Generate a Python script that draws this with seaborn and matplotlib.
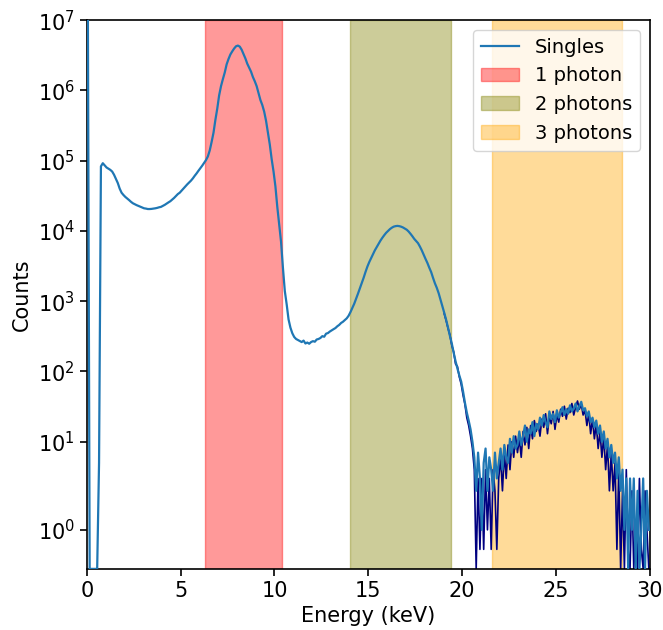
import numpy as np
import pandas as pd
import matplotlib
matplotlib.use("Agg")
import matplotlib.pyplot as plt
from matplotlib.ticker import LogFormatterSciNotation, NullLocator
import seaborn as sns

# Histogram bins: 0.1 keV wide, centres at 0.05 ... 29.95 keV
bin_width = 0.1
n_bins = 300
energy = np.round(np.arange(n_bins) * bin_width + bin_width / 2, 2)

# Singles spectrum, one row per keV (10 bins each)
singles = [
    3e7, 0, 0, 0, 0, 0, 5, 8.3e4, 9.2e4, 8.6e4,
    8.0e4, 7.7e4, 7.4e4, 7.0e4, 6.3e4, 5.5e4, 4.8e4, 4.0e4, 3.5e4, 3.25e4,
    3.05e4, 2.9e4, 2.75e4, 2.6e4, 2.48e4, 2.4e4, 2.33e4, 2.27e4, 2.22e4, 2.16e4,
    2.1e4, 2.08e4, 2.05e4, 2.05e4, 2.06e4, 2.08e4, 2.1e4, 2.13e4, 2.17e4, 2.2e4,
    2.27e4, 2.35e4, 2.45e4, 2.55e4, 2.65e4, 2.8e4, 2.95e4, 3.15e4, 3.35e4, 3.5e4,
    3.75e4, 4.0e4, 4.3e4, 4.6e4, 4.9e4, 5.2e4, 5.6e4, 6.1e4, 6.6e4, 7.2e4,
    7.8e4, 8.5e4, 9.3e4, 1.02e5, 1.15e5, 1.4e5, 1.85e5, 2.5e5, 3.8e5, 5.5e5,
    8.5e5, 1.15e6, 1.45e6, 1.8e6, 2.35e6, 2.8e6, 3.25e6, 3.6e6, 3.95e6, 4.25e6,
    4.35e6, 4.2e6, 3.8e6, 3.3e6, 2.85e6, 2.4e6, 2.1e6, 1.85e6, 1.55e6, 1.35e6,
    1.15e6, 9.2e5, 7.3e5, 6.2e5, 5.0e5, 3.7e5, 2.5e5, 1.7e5, 1.05e5, 7.0e4,
    4.3e4, 2.2e4, 1.25e4, 7.0e3, 3.0e3, 1.4e3, 900, 550, 420, 350,
    310, 290, 280, 270, 262, 275, 250, 258, 248, 262,
    270, 265, 285, 290, 300, 318, 312, 345, 352, 370,
    385, 400, 415, 440, 460, 490, 510, 540, 570, 620,
    700, 800, 920, 1080, 1280, 1520, 1800, 2150, 2600, 3100,
    3600, 4100, 4700, 5300, 5900, 6600, 7300, 8000, 8700, 9400,
    1.0e4, 1.06e4, 1.11e4, 1.15e4, 1.17e4, 1.18e4, 1.17e4, 1.15e4, 1.12e4, 1.08e4,
    1.04e4, 9800, 9100, 8400, 7700, 7200, 6700, 6000, 5300, 4600,
    4000, 3500, 3000, 2600, 2150, 1800, 1550, 1300, 1050, 850,
    680, 540, 420, 320, 250, 185, 140, 110, 88, 72,
    52, 36, 26, 20, 15, 10, 6, 2, 7, 3,
    1, 5, 8, 2, 6, 4, 2, 7, 3, 5,
    8, 4, 9, 6, 5, 11, 7, 12, 8, 9,
    14, 9, 12, 17, 10, 15, 13, 19, 12, 18,
    15, 22, 17, 24, 19, 16, 27, 21, 25, 19,
    28, 22, 26, 31, 24, 29, 25, 33, 27, 30,
    35, 27, 32, 37, 28, 30, 23, 27, 19, 22,
    16, 20, 13, 17, 10, 14, 8, 11, 6, 9,
    5, 7, 3, 6, 2, 4, 1, 3, 0, 3,
    1, 3, 0, 2, 0, 1, 3, 0, 2, 1,
]

# Second channel, from 19 keV upward (below that it coincides with the singles)
second_start = 19.0
second = [
    660, 530, 410, 330, 235, 190, 128, 118, 84, 66,
    46, 34, 22, 17, 12, 8, 4, 0, 3, 0.5,
    3, 0.5, 4, 1, 3, 0.5, 4, 2, 0.5, 3,
    6, 2, 7, 3, 9, 4, 10, 6, 12, 7,
    11, 6, 14, 9, 16, 8, 17, 11, 20, 14,
    18, 12, 21, 16, 25, 13, 23, 18, 27, 15,
    24, 19, 29, 23, 32, 21, 30, 26, 35, 24,
    31, 38, 29, 34, 24, 28, 17, 25, 13, 21,
    11, 18, 8, 14, 6, 12, 4, 9, 2, 7,
    2, 5, 0.5, 4, 0, 2, 0, 4, 0.5, 0,
    2, 0, 1, 0, 3, 0.5, 0, 2, 1, 0,
]

# Photon-multiplicity windows (keV)
windows = [(6.3, 10.4), (14.0, 19.4), (21.6, 28.5)]
window_labels = ["1 photon", "2 photons", "3 photons"]
window_colors = ["red", "olive", "orange"]

df_singles = pd.DataFrame({"energy": energy, "counts": singles})
second_energy = energy[energy > second_start]
df_second = pd.DataFrame({"energy": second_energy, "counts": second})

plt.rcParams["font.family"] = ["DejaVu Sans"]
plt.rcParams["font.size"] = 15
plt.rcParams["axes.linewidth"] = 1.2
plt.rcParams["xtick.major.size"] = 5
plt.rcParams["ytick.major.size"] = 5
plt.rcParams["xtick.major.width"] = 1.2
plt.rcParams["ytick.major.width"] = 1.2

fig = plt.figure(figsize=(6.63, 6.30), dpi=100)
ax = fig.add_axes([0.131, 0.097, 0.849, 0.871])

for (lo, hi), lab, col in zip(windows, window_labels, window_colors):
    ax.axvspan(lo, hi, color=col, alpha=0.4, label=lab, zorder=1)

sns.lineplot(data=df_second, x="energy", y="counts", ax=ax, color="navy",
             linewidth=1.2, estimator=None, label="_nolegend_", zorder=2)
sns.lineplot(data=df_singles, x="energy", y="counts", ax=ax, color="C0",
             linewidth=1.6, estimator=None, label="Singles", zorder=3)

ax.set_yscale("symlog", linthresh=2, linscale=1)
ax.set_ylim(0, 1e7)
ax.set_xlim(0, 30)
ax.set_yticks([10.0 ** k for k in range(0, 8)])
ax.yaxis.set_major_formatter(LogFormatterSciNotation(base=10))
ax.yaxis.set_minor_locator(NullLocator())
ax.set_xticks([0, 5, 10, 15, 20, 25, 30])

ax.set_xlabel("Energy (keV)", fontsize=15)
ax.set_ylabel("Counts", fontsize=15)
ax.tick_params(labelsize=15)

handles, labels = ax.get_legend_handles_labels()
order = ["Singles"] + window_labels
hl = dict(zip(labels, handles))
ax.legend([hl[k] for k in order], order, loc="upper right", fontsize=14)

fig.savefig("out.png", dpi=100)
